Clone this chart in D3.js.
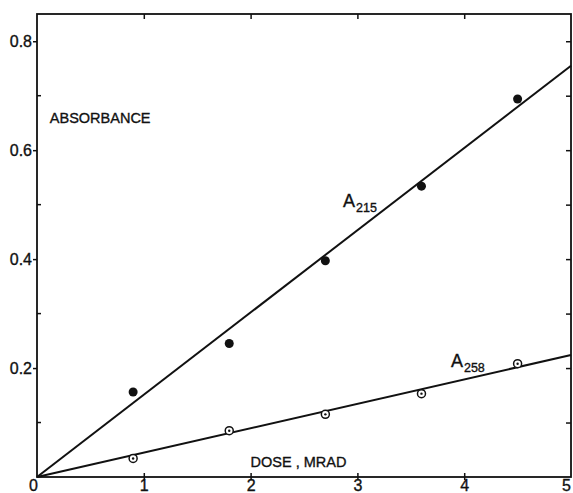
<!DOCTYPE html>
<html>
<head>
<meta charset="utf-8">
<script src="https://cdn.jsdelivr.net/npm/d3@7"></script>
<style>
  html, body { margin: 0; padding: 0; background: #fff; }
  svg { display: block; }
  text { font-family: "Liberation Sans", Arial, sans-serif; fill: #111; stroke: #111; stroke-width: 0.35px; }
</style>
</head>
<body>
<svg id="chart" width="573" height="493"></svg>
<script>
// Dose (Mrad) at which each sample was measured
const doses = [0.9, 1.8, 2.7, 3.6, 4.5];
// Absorbance at 215 nm (filled points) and 258 nm (open points)
const a215 = [0.156, 0.245, 0.397, 0.534, 0.694];
const a258 = [0.034, 0.085, 0.115, 0.153, 0.208];
// Straight-line fits through the origin, given at both ends of the dose range
const fitDose = [0, 5];
const fit215 = [0, 0.755];
const fit258 = [0, 0.224];
// Axis ticks
const xTicks = [0, 1, 2, 3, 4, 5];
const yMajor = [0.2, 0.4, 0.6, 0.8];
const yMinor = [0.1, 0.3, 0.5, 0.7];
const yAll = [0.1, 0.2, 0.3, 0.4, 0.5, 0.6, 0.7, 0.8];

(function () {
  const W = 573, H = 493;
  const m = { left: 37, right: 2, top: 14, bottom: 16 };
  const svg = d3.select("#chart");

  const x = d3.scaleLinear().domain([0, 5]).range([m.left, W - m.right]);
  const y = d3.scaleLinear().domain([0, 0.85]).range([H - m.bottom, m.top]);

  const ink = "#111";

  // Frame
  svg.append("rect")
    .attr("x", x(0)).attr("y", y(0.85))
    .attr("width", x(5) - x(0)).attr("height", y(0) - y(0.85))
    .attr("fill", "none").attr("stroke", ink).attr("stroke-width", 1.8);

  // Left axis: major ticks outward with labels, minor ticks inward
  const leftAxis = svg.append("g").attr("transform", `translate(${x(0)},0)`);
  leftAxis.call(d3.axisLeft(y).tickValues(yMajor).tickSize(4).tickPadding(1)
    .tickFormat(d3.format(".1f")));
  leftAxis.select(".domain").remove();
  leftAxis.selectAll("line").attr("stroke", ink).attr("stroke-width", 1.5);
  leftAxis.selectAll("text").attr("font-size", 16).attr("fill", ink);
  leftAxis.selectAll(".minor").data(yMinor).join("line")
    .attr("class", "minor")
    .attr("x1", 0).attr("x2", 4)
    .attr("y1", d => y(d)).attr("y2", d => y(d))
    .attr("stroke", ink).attr("stroke-width", 1.5);

  // Right axis: inward ticks every 0.1
  const rightAxis = svg.append("g").attr("transform", `translate(${x(5)},0)`);
  rightAxis.call(d3.axisLeft(y).tickValues(yAll).tickSize(5).tickFormat(""));
  rightAxis.select(".domain").remove();
  rightAxis.selectAll("line").attr("stroke", ink).attr("stroke-width", 1.5);

  // Top axis: inward ticks at whole doses
  const topAxis = svg.append("g").attr("transform", `translate(0,${y(0.85)})`);
  topAxis.call(d3.axisBottom(x).tickValues([1, 2, 3, 4]).tickSize(5).tickFormat(""));
  topAxis.select(".domain").remove();
  topAxis.selectAll("line").attr("stroke", ink).attr("stroke-width", 1.5);

  // Bottom axis: ticks crossing the baseline, labels below
  const bottomAxis = svg.append("g").attr("transform", `translate(0,${y(0)})`);
  bottomAxis.call(d3.axisBottom(x).tickValues(xTicks).tickSize(3).tickPadding(0)
    .tickFormat(d3.format("d")));
  bottomAxis.select(".domain").remove();
  bottomAxis.selectAll("line")
    .attr("y1", -4)
    .attr("stroke", ink).attr("stroke-width", 1.5)
    .attr("opacity", d => (d === 0 || d === 5) ? 0 : 1);
  bottomAxis.selectAll("text").attr("font-size", 16).attr("fill", ink)
    .attr("dx", d => d === 0 ? -4 : d === 5 ? -5 : 0);

  // Fitted lines
  const line = d3.line().x(d => x(d[0])).y(d => y(d[1]));
  [fit215, fit258].forEach(fit => {
    svg.append("path")
      .datum(fitDose.map((d, i) => [d, fit[i]]))
      .attr("d", line)
      .attr("fill", "none").attr("stroke", ink).attr("stroke-width", 2);
  });

  // A215 points: filled
  svg.selectAll(".p215").data(doses).join("circle")
    .attr("class", "p215")
    .attr("cx", d => x(d)).attr("cy", (d, i) => y(a215[i]))
    .attr("r", 4.5).attr("fill", ink);

  // A258 points: open circles with a centre dot
  svg.selectAll(".p258").data(doses).join("circle")
    .attr("class", "p258")
    .attr("cx", d => x(d)).attr("cy", (d, i) => y(a258[i]))
    .attr("r", 4).attr("fill", "#fff").attr("stroke", ink).attr("stroke-width", 1.5);
  svg.selectAll(".p258c").data(doses).join("circle")
    .attr("class", "p258c")
    .attr("cx", d => x(d)).attr("cy", (d, i) => y(a258[i]))
    .attr("r", 1.2).attr("fill", ink);

  // Axis titles
  svg.append("text").attr("x", x(0.12)).attr("y", y(0.65))
    .attr("font-size", 14.5).text("ABSORBANCE");
  svg.append("text").attr("x", x(2.0)).attr("y", y(0.018))
    .attr("font-size", 14.5).text("DOSE , MRAD");

  // Curve labels with subscripts
  function curveLabel(dx, dy, sub) {
    const t = svg.append("text").attr("x", x(dx)).attr("y", y(dy)).attr("font-size", 18);
    t.append("tspan").text("A");
    t.append("tspan").attr("dx", 1).attr("dy", 5).attr("font-size", 12.5).text(sub);
  }
  curveLabel(2.865, 0.496, "215");
  curveLabel(3.876, 0.202, "258");
})();
</script>
</body>
</html>
